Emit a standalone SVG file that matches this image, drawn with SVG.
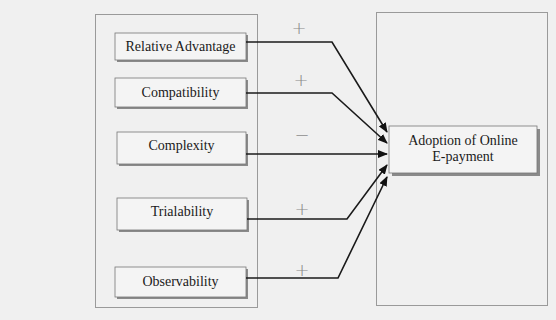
<svg xmlns="http://www.w3.org/2000/svg" width="556" height="320" viewBox="0 0 556 320">
<defs>
<marker id="arr" markerWidth="10" markerHeight="8" refX="9" refY="4" orient="auto" markerUnits="userSpaceOnUse">
<path d="M0,0 L10,4 L0,8 Z" fill="#111"/>
</marker>
</defs>
<style>
.frame{fill:none;stroke:#444;stroke-width:1;stroke-dasharray:1,1}
.shadow{fill:#8a8a8a}
.box{fill:#f4f4f4;stroke:#777;stroke-width:0.8}
.lbl{font-family:"Liberation Serif","Times New Roman",serif;font-size:14px;fill:#1a1a1a;text-anchor:middle}
.sign{font-family:"DejaVu Sans","Liberation Sans",sans-serif;font-size:18px;font-weight:200;fill:#8a8a8a;text-anchor:middle}
.conn{fill:none;stroke:#1a1a1a;stroke-width:1.6;marker-end:url(#arr)}
</style>
<rect width="556" height="320" fill="#f0f0f0"/>
<g id="left-frame"><rect class="frame" x="95.5" y="14.5" width="162" height="293"/></g>
<g id="right-frame"><rect class="frame" x="376.5" y="12.5" width="171" height="293"/></g>
<g id="relative-advantage">
<rect class="shadow" x="117" y="35" width="131" height="27"/>
<rect class="box" x="115" y="33" width="131" height="27"/>
<text class="lbl" x="180.5" y="51">Relative Advantage</text>
</g>
<g id="compatibility">
<rect class="shadow" x="117" y="80" width="131" height="29"/>
<rect class="box" x="115" y="78" width="131" height="29"/>
<text class="lbl" x="180.5" y="97">Compatibility</text>
</g>
<g id="complexity">
<rect class="shadow" x="119" y="134" width="129" height="32"/>
<rect class="box" x="117" y="132" width="129" height="32"/>
<text class="lbl" x="181.5" y="150">Complexity</text>
</g>
<g id="trialability">
<rect class="shadow" x="119" y="200" width="130" height="32"/>
<rect class="box" x="117" y="198" width="130" height="32"/>
<text class="lbl" x="182" y="216">Trialability</text>
</g>
<g id="observability">
<rect class="shadow" x="117" y="269" width="131" height="30"/>
<rect class="box" x="115" y="267" width="131" height="30"/>
<text class="lbl" x="180.5" y="286">Observability</text>
</g>
<g id="adoption">
<rect class="shadow" x="392" y="129" width="148" height="47"/>
<rect class="box" x="389" y="126" width="148" height="47"/>
<text class="lbl" x="463" y="145">Adoption of Online</text>
<text class="lbl" x="463" y="161">E-payment</text>
</g>
<g id="connectors">
<polyline class="conn" points="246,42 332,42 387,132"/>
<polyline class="conn" points="246,93 332,93 387,143"/>
<polyline class="conn" points="246,154 387,154"/>
<polyline class="conn" points="247,219 347,219 387,165"/>
<polyline class="conn" points="246,278 338,278 387,177"/>
<text class="sign" x="299" y="34">+</text>
<text class="sign" x="301" y="86">+</text>
<text class="sign" x="302" y="141">−</text>
<text class="sign" x="302" y="215">+</text>
<text class="sign" x="302" y="276">+</text>
</g>
</svg>
